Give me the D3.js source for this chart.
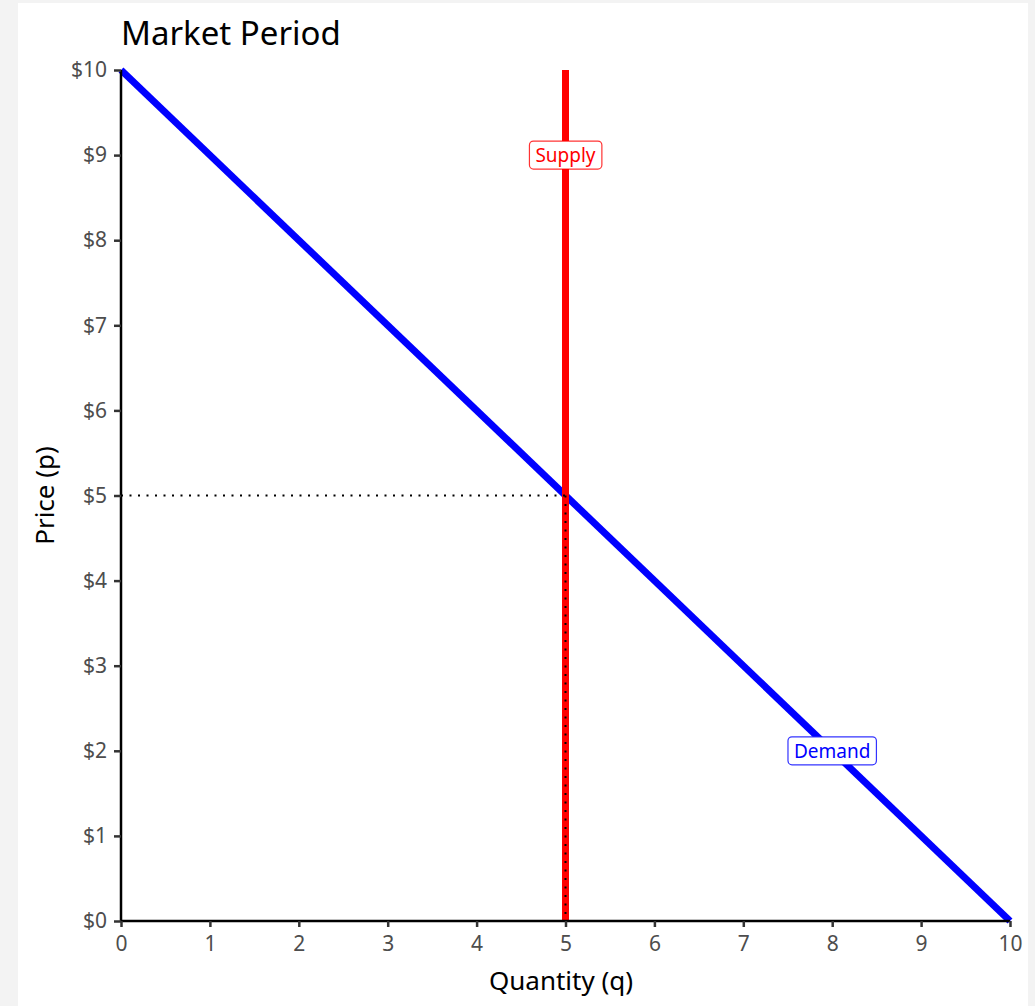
<!DOCTYPE html>
<html>
<head>
<meta charset="utf-8">
<script src="https://cdn.jsdelivr.net/npm/d3@7"></script>
<style>
  body { margin: 0; background: #f3f3f3; }
  svg { display: block; }
  text { font-family: "Noto Sans", "Open Sans", sans-serif; }
</style>
</head>
<body>
<svg id="chart" width="1035" height="1006"></svg>
<script>
// demand: p = 10 - q, supply: vertical at q = 5
const demandQ = [0, 10];
const demandP = [10, 0];
const supplyQ = [5, 5];
const supplyP = [0, 10];
const eqQ = 5;
const eqP = 5;
const xTicks = [0, 1, 2, 3, 4, 5, 6, 7, 8, 9, 10];
const yTicks = [0, 1, 2, 3, 4, 5, 6, 7, 8, 9, 10];
const labels = [
    { text: 'Supply', q: 5, p: 9, color: '#ff0000' },
    { text: 'Demand', q: 8, p: 2, color: '#0000ff' }
];

const svg = d3.select('#chart');

svg.append('rect')
    .attr('x', 18).attr('y', 3)
    .attr('width', 1010).attr('height', 1003)
    .attr('fill', '#fff');

const x = d3.scaleLinear().domain([0, 10]).range([121, 1010]);
const y = d3.scaleLinear().domain([0, 10]).range([921, 70]);

let line = d3.line()
    .x(d => x(d[0]))
    .y(d => y(d[1]));

// demand line
svg.append('path')
    .datum(d3.zip(demandQ, demandP))
    .attr('d', line)
    .attr('stroke', '#0000ff')
    .attr('stroke-width', 7)
    .attr('fill', 'none');

// supply line
svg.append('path')
    .datum(d3.zip(supplyQ, supplyP))
    .attr('d', line)
    .attr('stroke', '#ff0000')
    .attr('stroke-width', 7)
    .attr('fill', 'none');

// dotted guides to equilibrium
let guides = [
    [[0, eqP], [eqQ, eqP]],
    [[eqQ, eqP], [eqQ, 0]]
];
svg.selectAll('path.guide')
    .data(guides)
    .enter()
    .append('path')
    .attr('class', 'guide')
    .attr('d', line)
    .attr('stroke', '#000')
    .attr('stroke-width', 2)
    .attr('stroke-dasharray', '2,6.5')
    .attr('fill', 'none');

// axes
let xAxis = svg.append('g')
    .attr('transform', 'translate(0,' + y(0) + ')')
    .call(d3.axisBottom(x).tickValues(xTicks).tickSize(6).tickPadding(9).tickFormat(d3.format('d')));

let yAxis = svg.append('g')
    .attr('transform', 'translate(' + x(0) + ',0)')
    .call(d3.axisLeft(y).tickValues(yTicks).tickSize(7).tickPadding(7).tickFormat(d => '$' + d));

[xAxis, yAxis].forEach(a => {
    a.attr('font-size', null).attr('font-family', null);
    a.select('.domain').attr('stroke', '#000').attr('stroke-width', 2.5);
    a.selectAll('.tick line').attr('stroke', '#333').attr('stroke-width', 2.5);
    a.selectAll('.tick text')
        .attr('fill', '#4d4d4d')
        .style('font-size', '21px');
});
yAxis.select('.domain').attr('d', 'M0,' + y(10) + 'V' + y(0));
xAxis.select('.domain').attr('d', 'M' + x(0) + ',0H' + x(10));

// line labels
labels.forEach(l => {
    let g = svg.append('g');
    let t = g.append('text')
        .attr('x', x(l.q))
        .attr('y', y(l.p))
        .attr('text-anchor', 'middle')
        .attr('dy', '0.36em')
        .attr('fill', l.color)
        .style('font-size', '19px')
        .text(l.text);
    let bb = t.node().getBBox();
    g.insert('rect', 'text')
        .attr('x', bb.x - 6)
        .attr('y', y(l.p) - 14)
        .attr('width', bb.width + 12)
        .attr('height', 28)
        .attr('rx', 4)
        .attr('fill', '#fff')
        .attr('stroke', l.color)
        .attr('stroke-opacity', 0.8)
        .attr('stroke-width', 1.2);
});

// titles
svg.append('text')
    .attr('x', 121)
    .attr('y', 45)
    .style('font-size', '33px')
    .attr('fill', '#000')
    .text('Market Period');

svg.append('text')
    .attr('x', 561)
    .attr('y', 990)
    .attr('text-anchor', 'middle')
    .style('font-size', '26px')
    .text('Quantity (q)');

svg.append('text')
    .attr('transform', 'translate(54,' + ((y(0) + y(10)) / 2) + ') rotate(-90)')
    .attr('text-anchor', 'middle')
    .style('font-size', '26px')
    .text('Price (p)');
</script>
</body>
</html>
